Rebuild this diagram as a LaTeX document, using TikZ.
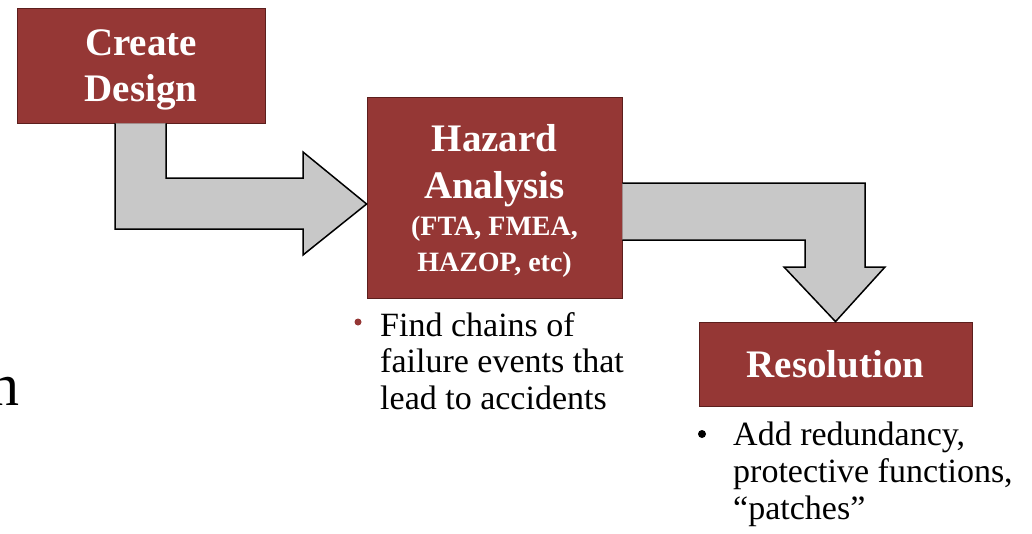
\documentclass[tikz,border=0pt]{standalone}
\usepackage{fontspec}
\setmainfont{Liberation Serif}
\usetikzlibrary{calc,positioning}
\definecolor{boxred}{HTML}{953735}
\definecolor{boxline}{HTML}{5C1F1D}
\definecolor{arrowgray}{HTML}{C8C8C8}
\begin{document}
\begin{tikzpicture}[x=1pt,y=-1pt,
  stage/.style={draw=boxline,line width=0.8pt,fill=boxred,text=white,text depth=0pt,
    font=\fontsize{39}{41}\selectfont\bfseries,align=center,inner sep=0pt},
  blockarrow/.style={draw=black,line width=1.5pt,fill=arrowgray,line join=miter},
  note/.style={font=\fontsize{34}{36.5}\selectfont,align=left,anchor=north west,inner sep=0pt},
  dot/.style={circle,inner sep=0pt}]
  \useasboundingbox (0,0) rectangle (1032,533);
  % stages
  \node[stage,minimum width=248pt,minimum height=115pt] (design) at (141,65.5) {Create\\[5pt]Design};
  \node[stage,minimum width=255pt,minimum height=201pt] (hazard) at (494.5,197.5)
    {Hazard\\[6pt]Analysis\\[-4pt]{\fontsize{28}{34}\selectfont (FTA, FMEA,}\\[-5pt]{\fontsize{28}{34}\selectfont HAZOP, etc)}};
  \node[stage,minimum width=273pt,minimum height=84pt] (resolution) at (835.5,364) {Resolution};
  % block arrows
  \filldraw[blockarrow] (115,0 |- design.south) -- (115,229) -- (303,229) -- (303,255)
    -- (hazard.west |- 0,204) -- (303,152) -- (303,178) -- (166,178) -- (166,0 |- design.south);
  \filldraw[blockarrow] (hazard.east |- 0,183) -- (865,183) -- (865,267) -- (885,267)
    -- (resolution.north) -- (784,267) -- (805,267) -- (805,240) -- (hazard.east |- 0,240);
  % notes
  \node[dot,fill=boxred,minimum size=7pt] (hazbullet) at (358,322) {};
  \node[note] (haznote) at (380,312) {Find chains of\\failure events that\\lead to accidents};
  \node[dot,fill=black,minimum size=8pt] (resbullet) at (702,434) {};
  \node[note,font=\fontsize{34}{37}\selectfont] (resnote) at (733,422) {Add redundancy,\\protective functions,\\``patches''};
  \node[font=\fontsize{60}{60}\selectfont,anchor=base east,inner sep=0pt] (edge) at (20,405) {n};
\end{tikzpicture}
\end{document}
